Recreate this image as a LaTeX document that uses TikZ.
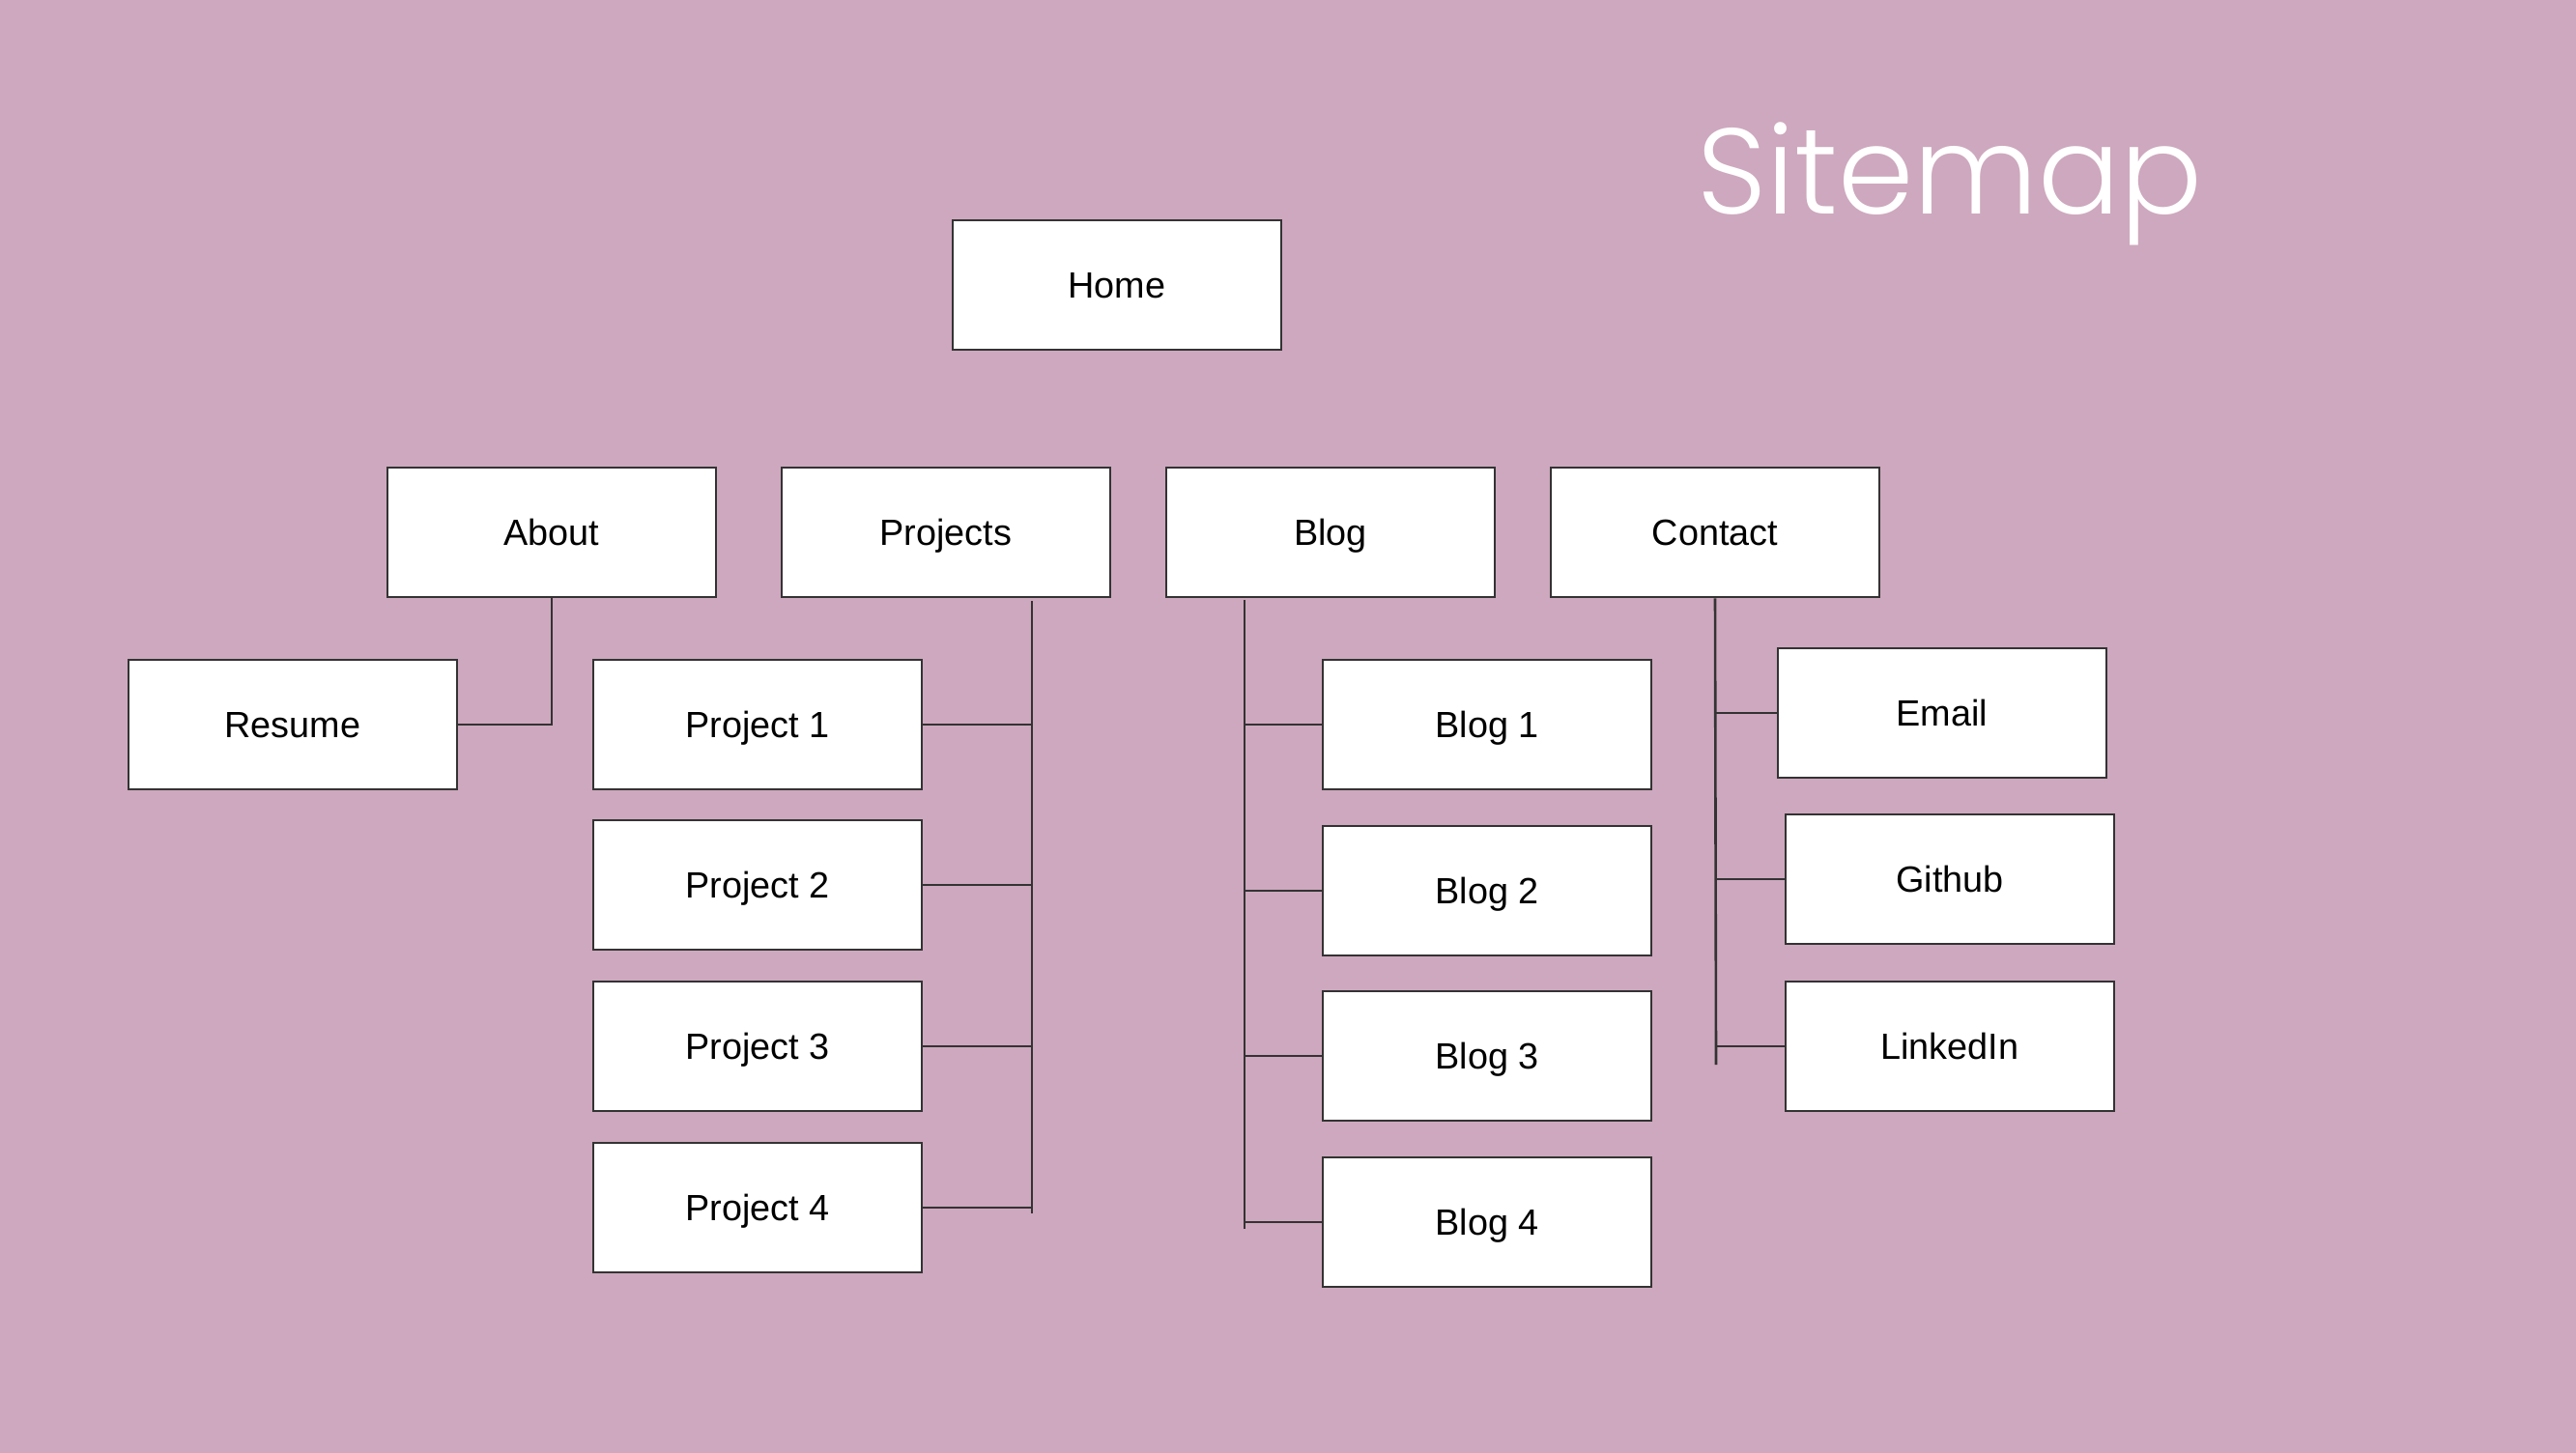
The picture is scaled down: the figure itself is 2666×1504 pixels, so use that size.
\documentclass[tikz,border=0pt]{standalone}
\usepackage{fontspec}
\setmainfont{Liberation Sans}
\newfontfamily\titlefont{Poppins}[UprightFont=* Light]
\definecolor{mauve}{RGB}{206,168,190}
\definecolor{edge}{RGB}{51,51,51}
\tikzset{
  box/.style={draw=edge,line width=1.3pt,fill=white,minimum width=170pt,
    minimum height=67pt,inner sep=0pt,text height=13.6pt,text depth=0pt,
    font=\fontsize{18.9}{22}\selectfont},
  link/.style={draw=edge,line width=1.3pt}
}
\begin{document}
\begin{tikzpicture}[x=0.5pt,y=-0.5pt]
  \fill[mauve] (0,0) rectangle (2666,1504);
  \useasboundingbox (0,0) rectangle (2666,1504);
  \node[anchor=base,text=white,font=\titlefont\fontsize{63}{72}\selectfont]
    (title) at (2018,221) {Sitemap};
  \path
    (1156,295) node[box] (home){Home}
    (571,551) node[box] (about){About}
    (979,551) node[box] (projects){Projects}
    (1377,551) node[box] (blog){Blog}
    (1775,551) node[box] (contact){Contact}
    (303,750) node[box] (resume){Resume}
    (784,750) node[box] (proj1){Project 1}
    (784,916) node[box] (proj2){Project 2}
    (784,1083) node[box] (proj3){Project 3}
    (784,1250) node[box] (proj4){Project 4}
    (1539,750) node[box] (blog1){Blog 1}
    (1539,922) node[box] (blog2){Blog 2}
    (1539,1093) node[box] (blog3){Blog 3}
    (1539,1265) node[box] (blog4){Blog 4}
    (2010,738) node[box] (email){Email}
    (2018,910) node[box] (github){Github}
    (2018,1083) node[box] (linkedin){LinkedIn};
  \begin{scope}[link]
    \draw (about.south) |- (resume.east);
    \coordinate (projtop) at (1068,622);
    \coordinate (projbot) at (1068,1256);
    \draw (projtop) -- (projbot);
    \foreach \n in {1,...,4}
      \draw (proj\n.east) -- (proj\n.east -| projtop);
    \coordinate (blogtop) at (1288,621);
    \coordinate (blogbot) at (1288,1272);
    \draw (blogtop) -- (blogbot);
    \foreach \n in {1,...,4}
      \draw (blog\n.west) -- (blog\n.west -| blogtop);
    \coordinate (conbot) at (1776,1102);
    \draw (contact.south) -- (conbot);
    \draw (email.west) -- (email.west -| conbot);
    \draw (github.west) -- (github.west -| conbot);
    \draw (linkedin.west) -- (linkedin.west -| conbot);
  \end{scope}
\end{tikzpicture}
\end{document}
